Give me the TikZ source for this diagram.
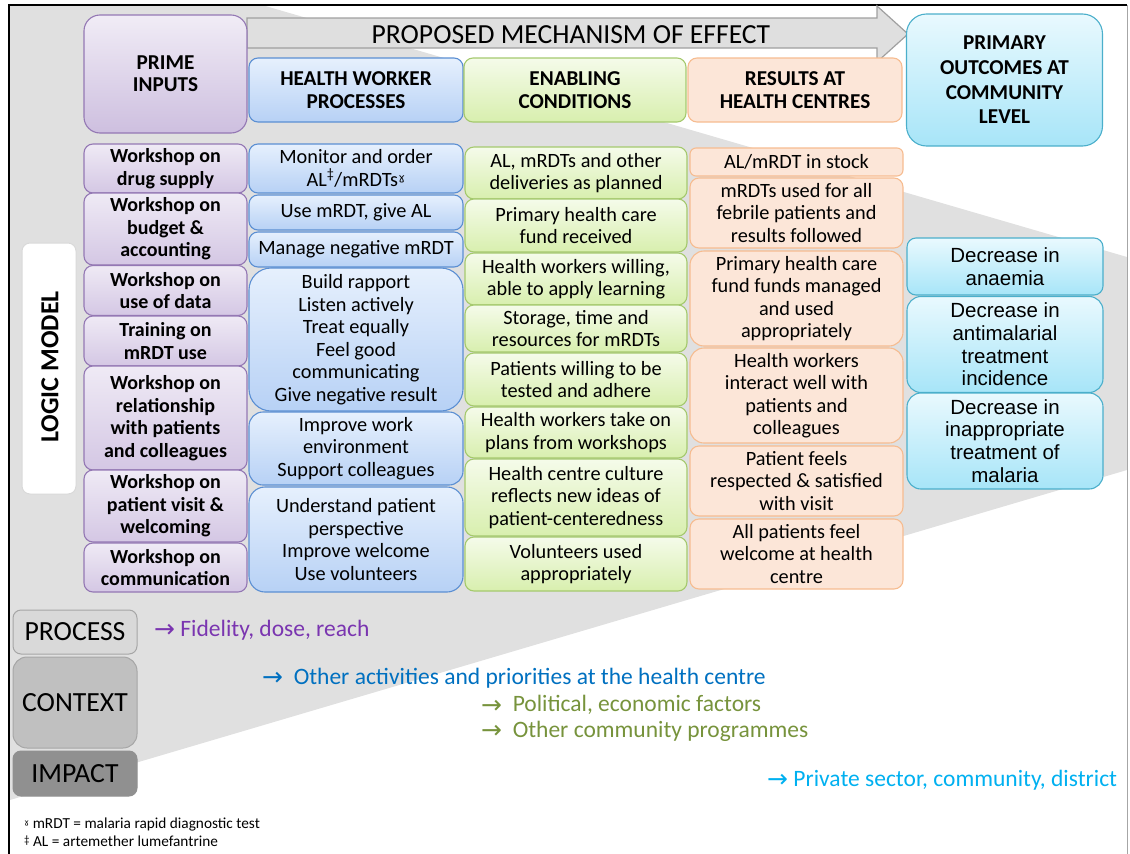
\documentclass[tikz,border=0pt]{standalone}
\usepackage{fontspec}
\setmainfont{Carlito}
\newfontfamily\arialf{Liberation Sans}
\newfontfamily\djv{DejaVu Sans}
\definecolor{bggray}{HTML}{E0E0E0}
\definecolor{arrowfill}{HTML}{DFDFDF}
\definecolor{arrowdraw}{HTML}{A0A0A0}
\definecolor{ptop}{HTML}{EFEAF5}
\definecolor{pbot}{HTML}{D4C7E4}
\definecolor{pdraw}{HTML}{9478B4}
\definecolor{btop}{HTML}{E6F0FD}
\definecolor{bbot}{HTML}{B7D1F5}
\definecolor{bdraw}{HTML}{5B8FD3}
\definecolor{gtop}{HTML}{F5FBEA}
\definecolor{gbot}{HTML}{D8EFAE}
\definecolor{gdraw}{HTML}{A5C96E}
\definecolor{ofill}{HTML}{FCE6D8}
\definecolor{odraw}{HTML}{F6BC90}
\definecolor{ctop}{HTML}{E9F9FE}
\definecolor{cbot}{HTML}{A7E5F8}
\definecolor{cdraw}{HTML}{4BAFCB}
\definecolor{procfill}{HTML}{D9D9D9}
\definecolor{ctxfill}{HTML}{C0C0C0}
\definecolor{impfill}{HTML}{909090}
\definecolor{greydraw}{HTML}{A6A6A6}
\definecolor{tpurple}{HTML}{7A35B0}
\definecolor{tblue}{HTML}{0070C0}
\definecolor{tgreen}{HTML}{77933C}
\definecolor{tcyan}{HTML}{00B0F0}
\newcommand\bodyf{\fontsize{20.3}{22.5}\selectfont}
\newcommand\inpf{\fontsize{20}{22.5}\selectfont\bfseries}
\newcommand\hdrf{\fontsize{21.2}{22.4}\selectfont\bfseries}
\newcommand\outf{\arialf\fontsize{20.5}{22.7}\selectfont}
\newcommand\ctxf{\fontsize{23.5}{26}\selectfont}
\newcommand\arr{\smash{\raisebox{-1.5pt}{\djv\fontsize{25}{25}\selectfont →}}}
\tikzset{
  box/.style={draw, rounded corners=9pt, align=center, inner sep=0pt, line width=1.1pt, font=\bodyf},
  pcol/.style={box, draw=pdraw, top color=ptop, bottom color=pbot, minimum width=163pt, font=\inpf},
  bcol/.style={box, draw=bdraw, top color=btop, bottom color=bbot, minimum width=214pt},
  gcol/.style={box, draw=gdraw, top color=gtop, bottom color=gbot, minimum width=222pt},
  ocol/.style={box, draw=odraw, fill=ofill, minimum width=213pt},
  ccol/.style={box, draw=cdraw, top color=ctop, bottom color=cbot, minimum width=196pt, font=\outf},
  hdr/.style={font=\hdrf},
  gbox/.style={draw=greydraw, rounded corners=8pt, line width=1pt, minimum width=124pt, inner sep=0pt, font=\fontsize{27.7}{28}\selectfont},
  ctxt/.style={anchor=west, inner sep=0pt, font=\ctxf},
  fn/.style={anchor=west, inner sep=0pt, font=\fontsize{15.3}{17}\selectfont}
}
\begin{document}
\begin{tikzpicture}[x=1pt,y=-1pt]
\useasboundingbox (0,0) rectangle (1130,854);
% background wedge
\fill[bggray] (10,5) -- (262,5) -- (1127,257) -- (1127,470) -- (10,800) -- cycle;
% frame
\draw[line width=1.5pt] (9,854) -- (9,5) -- (1127,5);
\draw[greydraw, line width=1pt] (1127,5) -- (1127,854);
% header arrow
\draw[fill=arrowfill, draw=arrowdraw, line width=1.2pt] (247,18) -- (877,18) -- (877,6) -- (908,34) -- (877,62) -- (877,48) -- (247,48) -- cycle;
\node[inner sep=0pt, font=\fontsize{27.6}{28}\selectfont] (mech) at (571,35) {PROPOSED MECHANISM OF EFFECT};

% column headers
\node[pcol, font=\hdrf, rounded corners=16pt, minimum height=118pt, top color=ptop!90!white, bottom color=pbot!90!pdraw] (hprime) at (165.5,74) {PRIME\\INPUTS};
\node[bcol, hdr, minimum height=64pt] (hhw) at (356,90) {HEALTH WORKER\\PROCESSES};
\node[gcol, hdr, minimum height=64pt] (hen) at (575,90) {ENABLING\\CONDITIONS};
\node[ocol, hdr, minimum height=64pt, minimum width=214pt] (hres) at (795,90) {RESULTS AT\\HEALTH CENTRES};
\node[ccol, font=\fontsize{21.2}{24.6}\selectfont\bfseries, rounded corners=20pt, minimum height=132pt] (hout) at (1004.5,80) {PRIMARY\\OUTCOMES AT\\COMMUNITY\\LEVEL};

% prime inputs
\node[pcol, minimum height=49pt] (p1) at (165.5,168.5) {Workshop on\\drug supply};
\node[pcol, minimum height=72pt] (p2) at (165.5,229) {Workshop on\\budget \&\\accounting};
\node[pcol, minimum height=50pt] (p3) at (165.5,290.5) {Workshop on\\use of data};
\node[pcol, minimum height=50pt] (p4) at (165.5,341) {Training on\\mRDT use};
\node[pcol, minimum height=104pt] (p5) at (165.5,418) {Workshop on\\relationship\\with patients\\and colleagues};
\node[pcol, minimum height=72pt] (p6) at (165.5,506) {Workshop on\\patient visit \&\\welcoming};
\node[pcol, minimum height=49pt] (p7) at (165.5,567.5) {Workshop on\\communication};

% health worker processes
\node[bcol, minimum height=49pt] (h1) at (356,168.5) {Monitor and order\\AL\textsuperscript{‡}/mRDTs{\djv\fontsize{17}{17}\selectfont ˠ}};
\node[bcol, minimum height=35pt] (h2) at (356,212.5) {Use mRDT, give AL};
\node[bcol, minimum height=35pt] (h3) at (356,249.5) {Manage negative mRDT};
\node[bcol, rounded corners=22pt, minimum height=143pt] (h4) at (356,339.5) {Build rapport\\Listen actively\\Treat equally\\Feel good\\communicating\\Give negative result};
\node[bcol, rounded corners=14pt, minimum height=73pt] (h5) at (356,448.5) {Improve work\\environment\\Support colleagues};
\node[bcol, rounded corners=16pt, minimum height=105pt] (h6) at (356,539.5) {Understand patient\\perspective\\Improve welcome\\Use volunteers};

% enabling conditions
\node[gcol, minimum height=52pt] (e1) at (576,173) {AL, mRDTs and other\\deliveries as planned};
\node[gcol, minimum height=53pt] (e2) at (576,225.5) {Primary health care\\fund received};
\node[gcol, minimum height=52pt] (e3) at (576,279) {Health workers willing,\\able to apply learning};
\node[gcol, minimum height=47pt] (e4) at (576,328.5) {Storage, time and\\resources for mRDTs};
\node[gcol, minimum height=53pt] (e5) at (576,379.5) {Patients willing to be\\tested and adhere};
\node[gcol, minimum height=51pt] (e6) at (576,432.5) {Health workers take on\\plans from workshops};
\node[gcol, minimum height=77pt] (e7) at (576,497.5) {Health centre culture\\reflects new ideas of\\patient-centeredness};
\node[gcol, minimum height=54pt] (e8) at (576,564) {Volunteers used\\appropriately};

% results at health centres
\node[ocol, rounded corners=6pt, minimum height=28pt] (r1) at (796.5,162) {AL/mRDT in stock};
\node[ocol, minimum height=70pt] (r2) at (796.5,213) {mRDTs used for all\\febrile patients and\\results followed};
\node[ocol, rounded corners=14pt, minimum height=95pt] (r3) at (796.5,298.5) {Primary health care\\fund funds managed\\and used\\appropriately};
\node[ocol, rounded corners=14pt, minimum height=95pt] (r4) at (796.5,395.5) {Health workers\\interact well with\\patients and\\colleagues};
\node[ocol, minimum height=70pt] (r5) at (796.5,481) {Patient feels\\respected \& satisfied\\with visit};
\node[ocol, minimum height=70pt] (r6) at (796.5,554) {All patients feel\\welcome at health\\centre};

% outcomes
\node[ccol, minimum height=57pt] (o1) at (1005,266.5) {Decrease in\\anaemia};
\node[ccol, rounded corners=14pt, minimum height=96pt] (o2) at (1005,344.5) {Decrease in\\antimalarial\\treatment\\incidence};
\node[ccol, rounded corners=14pt, minimum height=96pt] (o3) at (1005,441) {Decrease in\\inappropriate\\treatment of\\malaria};

% logic model label
\node[draw=procfill, fill=white, rounded corners=8pt, line width=1pt, minimum width=54pt, minimum height=251pt, inner sep=0pt] (lmbox) at (49,368.5) {};
\node[rotate=90, inner sep=0pt, font=\fontsize{26}{26}\selectfont\bfseries] (lm) at (50,367) {LOGIC MODEL};

% process / context / impact
\node[gbox, fill=procfill, minimum height=44pt] (proc) at (75,632) {PROCESS};
\node[gbox, fill=ctxfill, minimum height=91pt, rounded corners=14pt] (ctx) at (75,702.5) {CONTEXT};
\node[gbox, fill=impfill, draw=impfill, minimum height=45pt] (imp) at (75,773.5) {IMPACT};

% context texts
\node[ctxt, text=tpurple] (fid) at (154,630) {\arr\ Fidelity, dose, reach};
\node[ctxt, text=tblue] (oth) at (262,678) {\arr\ \ Other activities and priorities at the health centre};
\node[ctxt, text=tgreen] (pol) at (481,705) {\arr\ \ Political, economic factors};
\node[ctxt, text=tgreen] (ocp) at (481,731) {\arr\ \ Other community programmes};
\node[ctxt, text=tcyan] (priv) at (767,780) {\arr\ Private sector, community, district};

% footnotes
\node[fn] (fn1) at (24,824) {{\djv\fontsize{12}{12}\selectfont ˠ} mRDT = malaria rapid diagnostic test};
\node[fn] (fn2) at (24,841) {{\fontsize{11}{11}\selectfont\raisebox{3pt}{‡}} AL = artemether lumefantrine};
\end{tikzpicture}
\end{document}
